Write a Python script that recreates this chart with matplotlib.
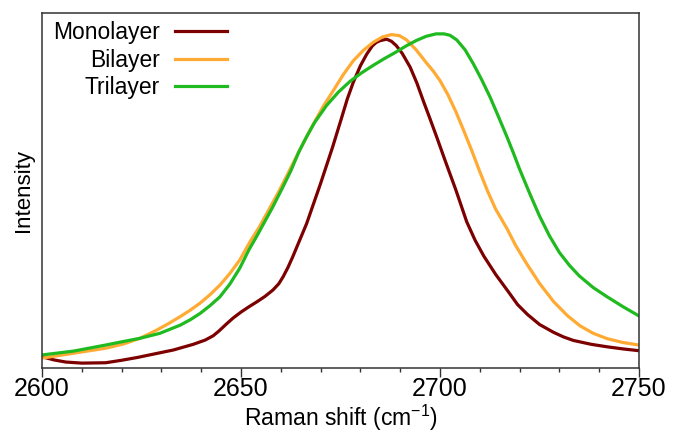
import matplotlib
matplotlib.use("Agg")
import matplotlib.pyplot as plt
from matplotlib.ticker import MultipleLocator

plt.rcParams['font.family'] = ['Liberation Sans', 'DejaVu Sans']
plt.rcParams['mathtext.fontset'] = 'custom'
plt.rcParams['mathtext.rm'] = 'Liberation Sans'
plt.rcParams['mathtext.default'] = 'rm'

# Raman 2D band, normalised intensity
mono_x = [2600, 2603, 2606, 2610, 2616, 2620, 2624, 2627, 2633, 2638, 2641, 2643,
          2644.5, 2646.4, 2648, 2650, 2652, 2654, 2656, 2658, 2659.5, 2660.6, 2661.8,
          2663, 2666.5, 2670, 2673, 2675, 2676.7, 2678.2, 2680, 2681.6, 2683, 2684,
          2685, 2686.6, 2687.8, 2689, 2690.5, 2692.5, 2694.2, 2695.8, 2697.5, 2699.2,
          2701.3, 2704, 2706.7, 2708.8, 2711, 2714, 2717, 2719.5, 2722, 2725,
          2728.5, 2731, 2733.5, 2738, 2742, 2746, 2750]
mono_y = [0.031, 0.022, 0.016, 0.013, 0.014, 0.021, 0.029, 0.036, 0.050, 0.066, 0.078, 0.090,
          0.104, 0.124, 0.140, 0.157, 0.172, 0.186, 0.201, 0.219, 0.237, 0.257, 0.283,
          0.313, 0.407, 0.520, 0.622, 0.695, 0.758, 0.805, 0.852, 0.885, 0.908, 0.918,
          0.923, 0.927, 0.921, 0.909, 0.887, 0.848, 0.803, 0.753, 0.702, 0.650,
          0.584, 0.501, 0.412, 0.360, 0.315, 0.263, 0.217, 0.178, 0.150, 0.122,
          0.100, 0.087, 0.077, 0.066, 0.059, 0.053, 0.048]

bi_x = [2600, 2608, 2616, 2620.5, 2624.6, 2628.8, 2631.7, 2634.7, 2637.2, 2639.7, 2642.2,
        2644.7, 2647.2, 2649.7, 2652.3, 2654.5, 2657, 2659.5, 2661.3, 2663, 2665.6,
        2668.2, 2670.7, 2673.2, 2675.7, 2678.2, 2680.7, 2683.2, 2685.5, 2687.8, 2689.8,
        2691.6, 2694, 2696.6, 2698.3, 2700, 2702, 2704, 2706, 2708, 2710, 2712, 2714,
        2716.8, 2719, 2721.8, 2725, 2728.5, 2732, 2735.2, 2738.5, 2742, 2746, 2750]
bi_y = [0.027, 0.041, 0.055, 0.067, 0.083, 0.106, 0.124, 0.144, 0.162, 0.182, 0.206,
        0.233, 0.266, 0.304, 0.356, 0.395, 0.446, 0.497, 0.537, 0.575, 0.633,
        0.688, 0.738, 0.782, 0.827, 0.866, 0.895, 0.918, 0.933, 0.940, 0.937,
        0.925, 0.897, 0.860, 0.837, 0.810, 0.770, 0.722, 0.668, 0.612, 0.553, 0.497, 0.447,
        0.393, 0.345, 0.293, 0.238, 0.187, 0.147, 0.118, 0.097, 0.082, 0.071, 0.064]

tri_x = [2600, 2608, 2616, 2620, 2624.6, 2629.6, 2634.7, 2637.2, 2639.7, 2642.2, 2644.7,
         2647.2, 2649.7, 2652, 2654, 2656, 2658, 2660.3, 2662.5, 2664.5, 2666.5, 2668.5,
         2671.5, 2674.5, 2677.4, 2680.3, 2683.2, 2686, 2689, 2691.5, 2694, 2696.5, 2699,
         2701, 2702.5, 2704.2, 2706.3, 2708.4, 2710.5, 2712.6, 2714.7, 2716.8, 2718.5,
         2720, 2722.6, 2725, 2727.5, 2730, 2732.5, 2735, 2738.5, 2742, 2746, 2750]
tri_y = [0.036, 0.047, 0.064, 0.073, 0.083, 0.097, 0.120, 0.135, 0.153, 0.175, 0.200,
         0.236, 0.281, 0.333, 0.372, 0.413, 0.454, 0.505, 0.555, 0.608, 0.652, 0.692,
         0.740, 0.778, 0.808, 0.832, 0.853, 0.872, 0.891, 0.908, 0.923, 0.935, 0.942,
         0.942, 0.938, 0.925, 0.897, 0.857, 0.812, 0.763, 0.708, 0.652, 0.604,
         0.560, 0.490, 0.428, 0.372, 0.325, 0.289, 0.259, 0.226, 0.200, 0.172, 0.146]

fig = plt.figure(figsize=(6.75, 4.32), dpi=100)
ax = fig.add_axes([0.0622, 0.1488, 0.8845, 0.8204])

ax.plot(mono_x, mono_y, color='#7d0000', lw=2.3, label='Monolayer', solid_joinstyle='round')
ax.plot(bi_x, bi_y, color='#ffab33', lw=2.3, label='Bilayer', solid_joinstyle='round')
ax.plot(tri_x, tri_y, color='#1fba1f', lw=2.3, label='Trilayer', solid_joinstyle='round')

ax.set_xlim(2600, 2750)
ax.set_ylim(0, 1)
ax.xaxis.set_major_locator(MultipleLocator(50))
ax.xaxis.set_minor_locator(MultipleLocator(10))
ax.tick_params(axis='x', which='major', direction='out', length=6.5, width=1,
               labelsize=18, pad=0.5, color='#333333')
ax.tick_params(axis='x', which='minor', direction='out', length=3, width=1, color='#333333')
ax.set_yticks([])
for s in ax.spines.values():
    s.set_color('#333333')
    s.set_linewidth(1.1)

ax.set_xlabel('Raman shift (cm$^{-1}$)', fontsize=16.5, labelpad=1)
ax.set_ylabel('Intensity', fontsize=16, labelpad=6)

ax.legend(loc='upper left', bbox_to_anchor=(0.018, 0.978), frameon=False,
          markerfirst=False, fontsize=16.5, handlelength=2.3, handletextpad=0.65,
          labelspacing=0.2, borderpad=0, borderaxespad=0)

fig.savefig('out.png', dpi=100)
